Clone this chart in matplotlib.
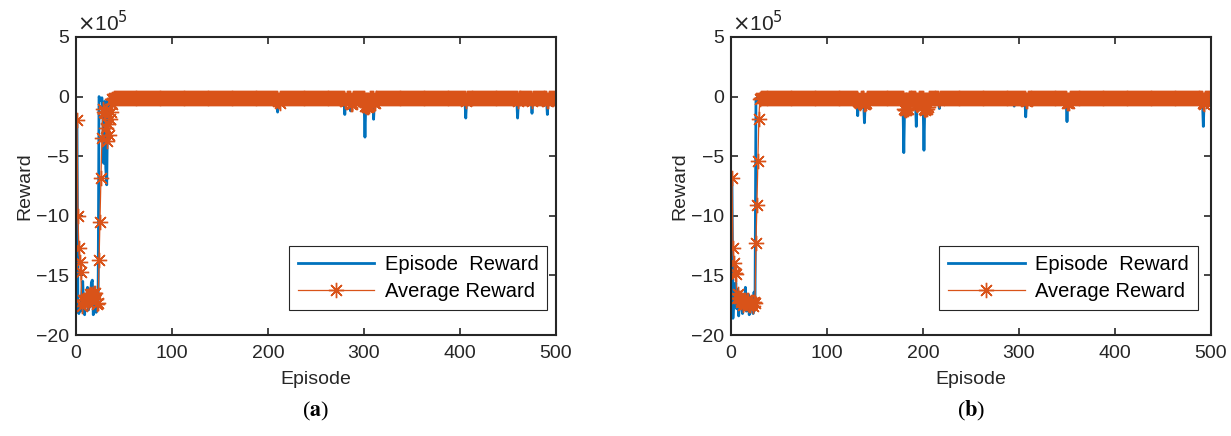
import numpy as np
import matplotlib.pyplot as plt

plt.rcParams['font.family'] = ['Liberation Sans', 'DejaVu Sans']

'''
Training curves, two runs. Rewards in units of 1e5.
'''
episodes = np.arange(1, 501)

# run (a): first 40 episodes read point by point, rest is a flat band with a few dips
early_reward_a = [-2.0, -18.0, -18.2, -17.5, -18.0, -16.5, -15.5, -17.8, -18.3, -16.8,
                  -17.2, -16.0, -17.9, -16.6, -17.4, -15.6, -15.4, -18.3, -17.0, -16.4,
                  -18.1, -17.2, -17.6, 0.0, -0.2, -0.3, -0.1, -1.2, -5.6, -0.4,
                  -6.0, -7.4, -0.3, -2.0, -0.2, -0.5, -0.1, -0.2, -0.1, -0.2]
early_avg_a = [-2.0, -10.0, -12.7, -13.9, -14.7, -17.6, -17.1, -17.1, -17.2, -17.0,
               -17.1, -17.2, -17.2, -16.9, -16.6, -16.7, -16.6, -16.7, -16.5, -16.5,
               -17.0, -17.4, -17.3, -13.7, -10.5, -6.8, -3.5, -1.0, -1.3, -1.4,
               -2.6, -3.7, -2.3, -3.2, -1.9, -1.3, -0.6, -0.2, -0.2, -0.1]
level_a = -0.1
dip_eps_a = [210, 280, 286, 301, 310, 406, 460, 475, 491]
dip_reward_a = [-1.3, -1.5, -1.2, -3.4, -1.9, -1.8, -1.8, -1.4, -1.5]
dip_avg_eps_a = [210, 211, 212, 280, 281, 286, 287, 288, 301, 302, 303, 304, 305,
                 310, 311, 406, 460, 475, 491, 492]
dip_avg_a = [-0.4, -0.4, -0.5, -0.4, -0.4, -0.6, -0.6, -0.5, -0.8, -0.8, -0.9, -0.9, -0.8,
             -0.5, -0.5, -0.4, -0.4, -0.35, -0.35, -0.4]

# run (b)
early_reward_b = [-6.8, -18.6, -16.6, -17.0, -15.6, -17.8, -16.2, -18.4, -17.0, -16.5,
                  -17.6, -18.2, -16.9, -17.3, -16.0, -18.0, -17.4, -16.6, -18.3, -17.1,
                  -16.8, -17.5, -18.2, -16.4, -17.9, -0.2, -0.1, -0.3, -0.1, -0.2,
                  -0.1, -0.2, -0.1, -0.1, -0.2, -0.1, -0.1, -0.2, -0.1, -0.1]
early_avg_b = [-6.8, -12.7, -14.0, -14.8, -14.9, -16.9, -16.6, -16.9, -16.9, -17.2,
               -17.1, -17.5, -17.2, -17.2, -17.2, -17.3, -17.1, -17.1, -17.5, -17.5,
               -17.2, -17.3, -17.6, -17.2, -17.3, -12.3, -9.1, -5.4, -1.85, -0.2,
               -0.1, -0.1, -0.1, -0.1, -0.1, -0.1, -0.1, -0.1, -0.1, -0.1]
level_b = -0.1
dip_eps_b = [132, 139, 180, 193, 201, 217, 295, 307, 350, 373, 492]
dip_reward_b = [-1.6, -2.2, -4.7, -2.5, -4.5, -1.0, -0.8, -1.7, -2.1, -0.5, -2.5]
dip_avg_eps_b = [132, 133, 134, 139, 140, 141, 180, 181, 182, 183, 184, 193, 194, 195,
                 201, 202, 203, 204, 205, 217, 307, 308, 350, 351, 352, 492, 493, 500]
dip_avg_b = [-0.4, -0.45, -0.5, -0.6, -0.6, -0.55, -1.0, -1.1, -1.1, -1.0, -1.0, -0.6, -0.7, -0.6,
             -1.0, -1.1, -1.0, -1.0, -0.9, -0.3, -0.4, -0.4, -0.5, -0.5, -0.5, -0.5, -0.6, -0.5]


def build(early, level, dip_eps, dip_vals):
    y = np.full(len(episodes), level)
    y[:len(early)] = early
    for ep, v in zip(dip_eps, dip_vals):
        y[ep - 1] = v
    return y


reward_a = build(early_reward_a, level_a, dip_eps_a, dip_reward_a)
avg_a = build(early_avg_a, level_a, dip_avg_eps_a, dip_avg_a)
reward_b = build(early_reward_b, level_b, dip_eps_b, dip_reward_b)
avg_b = build(early_avg_b, level_b, dip_avg_eps_b, dip_avg_b)

blue = '#0072BD'
orange = '#D95319'
dark = '#262626'
fs = 14

fig = plt.figure(figsize=(12.31, 4.36), dpi=100)
ax1 = fig.add_axes([76/1231, 1 - 335/436, 480/1231, 298/436])
ax2 = fig.add_axes([731/1231, 1 - 335/436, 480/1231, 298/436])

for ax, rew, avg, lab in [(ax1, reward_a, avg_a, 'a'), (ax2, reward_b, avg_b, 'b')]:
    ax.plot(episodes, rew, color=blue, lw=2.0, label='Episode  Reward')
    ax.plot(episodes, avg, color=orange, lw=0.9, marker=(8, 2, 0), ms=11,
            mew=1.0, mec=orange, label='Average Reward')
    ax.set_xlim(0, 500)
    ax.set_ylim(-20, 5)
    ax.set_xticks([0, 100, 200, 300, 400, 500])
    ax.set_yticks([-20, -15, -10, -5, 0, 5])
    ax.tick_params(direction='in', top=True, right=True, length=5, width=1.2,
                   labelsize=fs, colors=dark, pad=5)
    ax.tick_params(axis='x', pad=7)
    for s in ax.spines.values():
        s.set_linewidth(1.5)
        s.set_color(dark)
    ax.set_xlabel('Episode', fontsize=fs, color=dark, labelpad=7)
    ax.set_ylabel('Reward', fontsize=fs, color=dark, labelpad=2)
    ax.text(0.003, 1.005, r'$\times$10$^{5}$', transform=ax.transAxes, fontsize=15,
            color=dark, ha='left', va='bottom')
    leg = ax.legend(loc='lower right', bbox_to_anchor=(0.982 if lab == 'a' else 0.972, 0.084),
                    fontsize=14.5, handlelength=3.8, frameon=True, fancybox=False,
                    framealpha=1, borderpad=0.45, labelspacing=0.4, handletextpad=0.5,
                    borderaxespad=0)
    leg.get_frame().set_edgecolor('#262626')
    leg.get_frame().set_linewidth(0.8)
    cx = (76 + 240) / 1231 if lab == 'a' else (731 + 240) / 1231
    fig.text(cx, 1 - 411/436, r'($\mathbf{%s}$)' % lab, fontsize=16,
             family='Liberation Serif', math_fontfamily='stix', ha='center', va='center')

fig.savefig('out.png', dpi=100)
